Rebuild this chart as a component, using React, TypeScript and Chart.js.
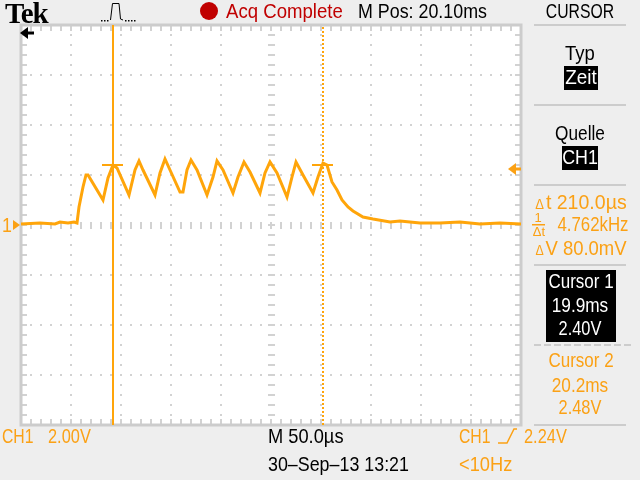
import React, { useEffect, useRef } from "react";
import { Chart, registerables } from "chart.js";

Chart.register(...registerables);

const timeUs = [-250,-231,-216,-211,-203,-197,-194,-192,-188,-185,-183,-168,-163,-158,-154,-142,-136,-132,-128,-116,-111,-106,-101,-91,-88,-84,-80,-74,-64,-58,-54,-48,-38,-33,-27,-21,-11,-6,-1,6,16,21,25,32,42,47,52,56,61,66,71,77,82,92,102,119,129,149,169,189,209,229,250];
const ch1Volts = [0.04,0.08,0.04,0.12,0.08,0.12,0.08,0.72,1.52,2.0,2.0,1.0,1.88,2.4,2.28,1.2,2.2,2.56,2.2,1.2,2.08,2.64,2.2,1.32,1.32,2.2,2.6,2.2,1.2,1.92,2.56,2.2,1.28,1.92,2.52,2.12,1.28,2.08,2.52,2.08,1.12,1.92,2.52,2.0,1.28,1.92,2.48,2.4,1.72,1.4,1.0,0.72,0.56,0.32,0.24,0.12,0.16,0.08,0.08,0.12,0.04,0.08,0.04];
const cursor1Time = -158;
const cursor2Time = 52;
const cursor1Volts = 2.4;
const cursor2Volts = 2.48;
const timeRange = [-250, 250];
const voltRange = [-8, 8];
const timeMinorStep = 10;
const timeMajorStep = 50;
const voltMinorStep = 0.4;
const voltMajorStep = 2;

const ORANGE = "#FBA115";
const TRACE = "#FFA50A";
const RED = "#C00000";
const SEP = "#CCCCCC";
const GRID = "#D2D2D2";
const FONT = '"Liberation Sans", sans-serif';

type Label = { text: string; x: number; y: number; color: string; sx: number; align?: "left" | "center"; delta?: boolean };

const labels: Label[] = [
  { text: "Acq Complete", x: 226, y: 11, color: RED, sx: 0.886 },
  { text: "M Pos: 20.10ms", x: 358, y: 11, color: "#000", sx: 0.85 },
  { text: "CURSOR", x: 580, y: 11, color: "#000", align: "center", sx: 0.75 },
  { text: "Typ", x: 580, y: 53, color: "#000", align: "center", sx: 0.88 },
  { text: "Zeit", x: 581, y: 77, color: "#fff", align: "center", sx: 0.9 },
  { text: "Quelle", x: 580, y: 133, color: "#000", align: "center", sx: 0.82 },
  { text: "CH1", x: 580, y: 157, color: "#fff", align: "center", sx: 0.85 },
  { text: "t 210.0\u00b5s", x: 581, y: 202, color: ORANGE, align: "center", sx: 0.93, delta: true },
  { text: "4.762kHz", x: 593, y: 224, color: ORANGE, align: "center", sx: 0.8 },
  { text: "V 80.0mV", x: 581, y: 248, color: ORANGE, align: "center", sx: 0.88, delta: true },
  { text: "Cursor 1", x: 581, y: 281, color: "#fff", align: "center", sx: 0.81 },
  { text: "19.9ms", x: 580, y: 305, color: "#fff", align: "center", sx: 0.82 },
  { text: "2.40V", x: 580, y: 328, color: "#fff", align: "center", sx: 0.78 },
  { text: "Cursor 2", x: 581, y: 360, color: ORANGE, align: "center", sx: 0.81 },
  { text: "20.2ms", x: 580, y: 385, color: ORANGE, align: "center", sx: 0.82 },
  { text: "2.48V", x: 580, y: 407, color: ORANGE, align: "center", sx: 0.78 },
  { text: "CH1", x: 2, y: 436, color: ORANGE, sx: 0.75 },
  { text: "2.00V", x: 48, y: 436, color: ORANGE, sx: 0.78 },
  { text: "M 50.0\u00b5s", x: 268, y: 436, color: "#000", sx: 0.87 },
  { text: "30\u2013Sep\u201313 13:21", x: 268, y: 464, color: "#000", sx: 0.85 },
  { text: "CH1", x: 459, y: 436, color: ORANGE, sx: 0.75 },
  { text: "2.24V", x: 524, y: 436, color: ORANGE, sx: 0.78 },
  { text: "<10Hz", x: 459, y: 464, color: ORANGE, sx: 0.87 },
  { text: "1", x: 2, y: 225, color: ORANGE, sx: 0.85 },
];

const frameAndGrid = {
  id: "frameAndGrid",
  beforeDatasetsDraw(chart: any) {
    const { ctx, chartArea: a, scales } = chart;
    const xs = scales.x;
    const ys = scales.y;
    ctx.save();
    ctx.fillStyle = "#fff";
    ctx.fillRect(a.left, a.top, a.width, a.height);
    ctx.fillStyle = GRID;
    const cx = xs.getPixelForValue(0);
    const cy = ys.getPixelForValue(0);
    const nX = Math.round((timeRange[1] - timeRange[0]) / timeMinorStep);
    const nY = Math.round((voltRange[1] - voltRange[0]) / voltMinorStep);
    for (let i = 1; i < nY; i++) {
      const v = voltRange[0] + i * voltMinorStep;
      const py = Math.round(ys.getPixelForValue(v));
      for (let m = timeRange[0] + timeMajorStep; m < timeRange[1]; m += timeMajorStep) {
        const px = Math.round(xs.getPixelForValue(m));
        if (px === Math.round(cx)) ctx.fillRect(px - 3, py - 1, 7, 2);
        else ctx.fillRect(px - 1, py - 1, 2, 2);
      }
      ctx.fillRect(a.left + 1, py - 1, 5, 2);
      ctx.fillRect(a.right - 6, py - 1, 5, 2);
    }
    for (let i = 1; i < nX; i++) {
      const t = timeRange[0] + i * timeMinorStep;
      const px = Math.round(xs.getPixelForValue(t));
      for (let m = voltRange[0] + voltMajorStep; m < voltRange[1]; m += voltMajorStep) {
        const py = Math.round(ys.getPixelForValue(m));
        if (py === Math.round(cy)) ctx.fillRect(px - 1, py - 3, 2, 7);
        else ctx.fillRect(px - 1, py - 1, 2, 2);
      }
      ctx.fillRect(px - 1, a.top + 1, 2, 5);
      ctx.fillRect(px - 1, a.bottom - 6, 2, 5);
    }
    ctx.strokeStyle = SEP;
    ctx.lineWidth = 3;
    ctx.strokeRect(a.left, a.top, a.width, a.height);
    ctx.restore();
  },
  afterDraw(chart: any) {
    const { ctx } = chart;
    const { y: ys } = chart.scales;
    ctx.save();
    // trigger pulse icon
    ctx.strokeStyle = "#000";
    ctx.fillStyle = "#000";
    ctx.lineWidth = 1;
    ctx.beginPath();
    ctx.moveTo(110.5, 20);
    ctx.lineTo(112.5, 3.5);
    ctx.lineTo(119, 3.5);
    ctx.lineTo(120.5, 19);
    ctx.lineTo(123, 20);
    ctx.stroke();
    [101, 104, 107, 125, 128, 131, 134].forEach((x) => ctx.fillRect(x, 20, 1.5, 1.5));
    // red acquisition dot
    ctx.fillStyle = RED;
    ctx.beginPath();
    ctx.arc(209, 11, 9, 0, Math.PI * 2);
    ctx.fill();
    // separators of the menu column
    ctx.fillStyle = SEP;
    [25, 105, 185, 265, 425].forEach((y) => ctx.fillRect(534, y - 1, 92, 2));
    for (let x = 534; x < 626; x += 10) ctx.fillRect(x, 344, 7, 2);
    // arrows
    const arrow = (tip: number, y: number, end: number, col: string) => {
      ctx.fillStyle = col;
      ctx.beginPath();
      ctx.moveTo(tip, y);
      ctx.lineTo(tip + 8, y - 6);
      ctx.lineTo(tip + 8, y + 6);
      ctx.fill();
      ctx.fillRect(tip + 6, y - 1.5, end - tip - 6, 3);
    };
    arrow(20, 33, 34, "#000");
    arrow(508, 169, 521, ORANGE);
    // ground marker
    ctx.fillStyle = ORANGE;
    ctx.beginPath();
    ctx.moveTo(20, ys.getPixelForValue(0));
    ctx.lineTo(13, ys.getPixelForValue(0) - 5);
    ctx.lineTo(13, ys.getPixelForValue(0) + 5);
    ctx.fill();
    // delta-t fraction and small glyphs
    ctx.fillRect(532, 224, 13, 1.5);
    ctx.font = `13px ${FONT}`;
    ctx.textAlign = "center";
    ctx.fillText("1", 538, 222);
    ctx.fillText("\u0394t", 539, 236);
    // trigger slope glyph
    ctx.strokeStyle = ORANGE;
    ctx.lineWidth = 1.5;
    ctx.beginPath();
    ctx.moveTo(498, 443);
    ctx.lineTo(507, 443);
    ctx.lineTo(514, 429);
    ctx.lineTo(517, 429);
    ctx.stroke();
    ctx.restore();
  },
};

export default function App() {
  const ref = useRef<HTMLCanvasElement>(null);
  useEffect(() => {
    document.body.style.margin = "0";
    document.body.style.background = "#EEEEEE";
    const axisBase = {
      type: "linear",
      ticks: { display: false, padding: 0 },
      grid: { display: false, drawTicks: false, tickLength: 0 },
      border: { display: false },
    };
    const c = new Chart(ref.current!, {
      type: "line",
      data: {
        datasets: [
          {
            label: "CH1",
            data: timeUs.map((x, i) => ({ x, y: ch1Volts[i] })),
            borderColor: TRACE,
            borderWidth: 3,
            pointRadius: 0,
            tension: 0,
          },
          {
            label: "Cursor 1",
            data: voltRange.map((y) => ({ x: cursor1Time, y })),
            borderColor: TRACE,
            borderWidth: 2,
            pointRadius: 0,
          },
          {
            label: "Cursor 2",
            data: voltRange.map((y) => ({ x: cursor2Time, y })),
            borderColor: TRACE,
            borderWidth: 2,
            borderDash: [2, 2],
            pointRadius: 0,
          },
          {
            label: "Cursor 1 level",
            data: [cursor1Time - 11, cursor1Time + 10].map((x) => ({ x, y: cursor1Volts })),
            borderColor: TRACE,
            borderWidth: 2,
            pointRadius: 0,
          },
          {
            label: "Cursor 2 level",
            data: [cursor2Time - 11, cursor2Time + 10].map((x) => ({ x, y: cursor2Volts - 0.08 })),
            borderColor: TRACE,
            borderWidth: 2,
            pointRadius: 0,
          },
        ],
      },
      options: {
        responsive: false,
        animation: false,
        devicePixelRatio: 1,
        layout: { padding: { left: 21, right: 119, top: 25, bottom: 55 } },
        plugins: { legend: { display: false }, tooltip: { enabled: false } },
        scales: {
          x: { ...axisBase, min: timeRange[0], max: timeRange[1] },
          y: { ...axisBase, min: voltRange[0], max: voltRange[1] },
        },
      },
      plugins: [frameAndGrid],
    } as any);
    return () => c.destroy();
  }, []);
  return (
    <div style={{ position: "absolute", left: 0, top: 0, width: 640, height: 480, background: "#EEEEEE", overflow: "hidden" }}>
      <canvas ref={ref} width={640} height={480} style={{ position: "absolute", left: 0, top: 0 }} />
      <div style={{ position: "absolute", left: 564, top: 66, width: 34, height: 24, background: "#000" }} />
      <div style={{ position: "absolute", left: 562, top: 146, width: 36, height: 24, background: "#000" }} />
      <div style={{ position: "absolute", left: 546, top: 270, width: 70, height: 72, background: "#000" }} />
      <div style={{ position: "absolute", left: 5, top: -3, font: 'bold 29px "Liberation Serif", serif', color: "#000", letterSpacing: -1 }}>Tek</div>
      {labels.map((l, i) => (
        <div
          key={i}
          style={{
            position: "absolute",
            left: l.x,
            top: l.y - 12,
            height: 24,
            font: `21px/24px ${FONT}`,
            color: l.color,
            whiteSpace: "nowrap",
            transformOrigin: "0 50%",
            transform: l.align === "center" ? `scaleX(${l.sx}) translateX(-50%)` : `scaleX(${l.sx})`,
          }}
        >
          {l.delta ? <span style={{ fontSize: 14, marginRight: 2 }}>{"\u0394"}</span> : null}
          {l.text}
        </div>
      ))}
    </div>
  );
}
